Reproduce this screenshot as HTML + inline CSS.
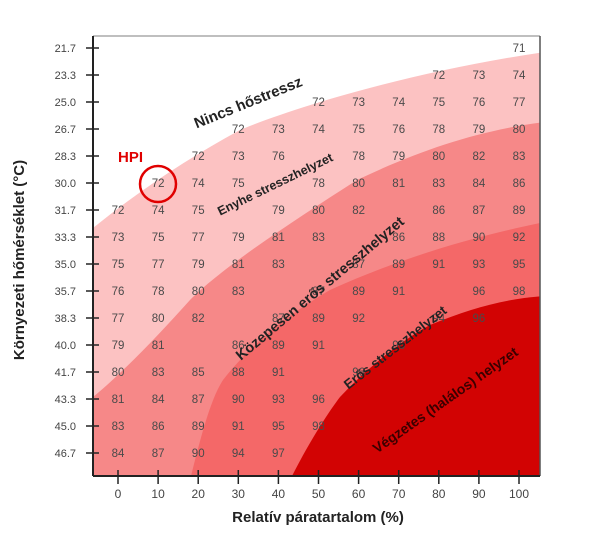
<!DOCTYPE html>
<html><head><meta charset="utf-8"><style>body{margin:0;background:#fff}svg{display:block}</style></head><body>
<svg width="600" height="560" xmlns="http://www.w3.org/2000/svg" font-family="Liberation Sans, sans-serif">
<defs><clipPath id="c"><rect x="93" y="36" width="447" height="440"/></clipPath></defs>
<g clip-path="url(#c)">
<rect x="93" y="36" width="447" height="440" fill="#fff"/>
<path d="M93,228 C140,190 190,157 240,130 C300,105 420,70 545,52 L545,480 L93,480Z" fill="#fcc2c2"/>
<path d="M93,397 C120,375 157,337 190,300 C223,267 290,223 357,180 C420,150 480,130 545,122 L545,480 L93,480Z" fill="#f68888"/>
<path d="M190,480 C200,440 210,400 223,380 C250,345 290,313 330,290 C390,263 457,240 545,222 L545,480Z" fill="#f46868"/>
<path d="M290,480 C310,440 330,410 340,397 C370,365 407,337 430,325 C473,307 510,298 545,296 L545,480Z" fill="#d20303"/>
</g>
<line x1="93" y1="36" x2="540" y2="36" stroke="#aaa" stroke-width="1.5"/>
<line x1="540" y1="36" x2="540" y2="476" stroke="#555" stroke-width="1.5"/>
<line x1="93" y1="36" x2="93" y2="476" stroke="#222" stroke-width="2"/>
<line x1="93" y1="476" x2="540" y2="476" stroke="#222" stroke-width="2"/>
<g stroke="#222" stroke-width="1.5" id="ticks"></g>
<g font-size="11" fill="#444" text-anchor="end" id="ylab"></g>
<g font-size="12" fill="#444" text-anchor="middle" id="xlab"></g>
<g font-size="11.5" fill="#4a4a4a" text-anchor="middle" id="vals"></g>
<g font-weight="bold" fill="#222" text-anchor="middle">
<text font-size="15" transform="translate(250,107) rotate(-22)">Nincs hőstressz</text>
<text font-size="12.5" transform="translate(277,188) rotate(-26)">Enyhe stresszhelyzet</text>
<text font-size="14.5" transform="translate(323,292) rotate(-40)">Közepesen erős stresszhelyzet</text>
<text font-size="13.5" transform="translate(398,351) rotate(-38)">Erős stresszhelyzet</text>
<text font-size="14" fill="#3a0000" transform="translate(448,404) rotate(-35)">Végzetes (halálos) helyzet</text>
</g>
<text x="118" y="162" font-size="15" fill="#e00000" font-weight="bold">HPI</text>
<circle cx="158" cy="184" r="18" fill="none" stroke="#e00000" stroke-width="2.5"/>
<text transform="translate(24,260) rotate(-90)" font-size="15" font-weight="bold" fill="#222" text-anchor="middle">Környezeti hőmérséklet (°C)</text>
<text x="318" y="522" font-size="15" font-weight="bold" fill="#222" text-anchor="middle">Relatív páratartalom (%)</text>
<script>
var ns="http://www.w3.org/2000/svg";
function el(p,t,a,tx){var e=document.createElementNS(ns,t);for(var k in a)e.setAttribute(k,a[k]);if(tx!=null)e.textContent=tx;document.getElementById(p).appendChild(e);}
var ys=["21.7","23.3","25.0","26.7","28.3","30.0","31.7","33.3","35.0","35.7","38.3","40.0","41.7","43.3","45.0","46.7"];
function X(i){return 118+40.1*i}function Y(j){return 48+27*j}
ys.forEach(function(s,j){el("ylab","text",{x:76,y:Y(j)+4},s);el("ticks","line",{x1:86,x2:99,y1:Y(j),y2:Y(j)});});
for(var i=0;i<=10;i++){el("xlab","text",{x:X(i),y:498},String(i*10));el("ticks","line",{x1:X(i),x2:X(i),y1:470,y2:484});}
var d={0:{10:71},1:{8:72,9:73,10:74},2:{5:72,6:73,7:74,8:75,9:76,10:77},3:{3:72,4:73,5:74,6:75,7:76,8:78,9:79,10:80},
4:{2:72,3:73,4:76,6:78,7:79,8:80,9:82,10:83},5:{1:72,2:74,3:75,5:78,6:80,7:81,8:83,9:84,10:86},
6:{0:72,1:74,2:75,4:79,5:80,6:82,8:86,9:87,10:89},7:{0:73,1:75,2:77,3:79,4:81,5:83,7:86,8:88,9:90,10:92},
8:{0:75,1:77,2:79,3:81,4:83,6:87,7:89,8:91,9:93,10:95},9:{0:76,1:78,2:80,3:83,5:87,6:89,7:91,9:96,10:98},
10:{0:77,1:80,2:82,4:87,5:89,6:92,8:94,9:96},11:{0:79,1:81,3:86,4:89,5:91,7:96},12:{0:80,1:83,2:85,3:88,4:91,6:96},
13:{0:81,1:84,2:87,3:90,4:93,5:96},14:{0:83,1:86,2:89,3:91,4:95,5:98},15:{0:84,1:87,2:90,3:94,4:97}};
for(var j in d)for(var i in d[j])el("vals","text",{x:X(+i),y:Y(+j)+4},String(d[j][i]));
</script>
</svg>
</body></html>
